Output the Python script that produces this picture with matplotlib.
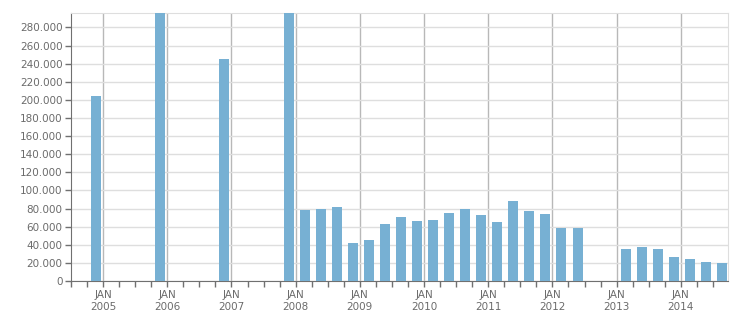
import numpy as np
import matplotlib.pyplot as plt
from matplotlib.ticker import FuncFormatter, MultipleLocator

# quarterly values, index 0 = last quarter of 2004; None = no bar
values = [
    204000, None, None, None,
    310000, None, None, None,
    245000, None, None, None,
    320000, 78400, 79500, 81700,
    42000, 45300, 63000, 70700,
    66300, 67400, 75100, 79500,
    72900, 65200, 88400, 77300,
    74000, 58500, 58500, None,
    None, 35300, 37600, 35300,
    26500, 24300, 21000, 19900,
]
years = list(range(2005, 2015))
year_labels = [f"JAN\n{y}" for y in years]

BAR_COLOR = '#77b0d3'
TEXT_COLOR = '#6b6b6b'

fig = plt.figure(figsize=(7.51, 3.13), dpi=100)
ax = fig.add_axes([71 / 751, 32 / 313, 657 / 751, 268 / 313])

x0 = 2004.891
xs = np.array([x0 + 0.25 * k for k, v in enumerate(values) if v is not None])
ys = np.array([v for v in values if v is not None])
ax.bar(xs, ys, width=0.156, color=BAR_COLOR, zorder=3)

ax.set_xlim(2004.5, 2014.735)
ax.set_ylim(0, 296000)

ax.set_yticks(np.arange(0, 280001, 20000))
ax.yaxis.set_major_formatter(FuncFormatter(lambda v, p: f"{int(v):,}".replace(',', '.')))
ax.set_xticks(years)
ax.set_xticklabels(year_labels, linespacing=1.25)
ax.xaxis.set_minor_locator(MultipleLocator(0.25))

ax.grid(axis='y', color='#dedede', linewidth=1, zorder=0)
ax.grid(axis='x', which='major', color='#b8b8b8', linewidth=1, zorder=0)
ax.set_axisbelow(True)

ax.tick_params(axis='both', which='both', colors='#707070', labelcolor=TEXT_COLOR,
               labelsize=7.5, length=4, width=1)
ax.tick_params(axis='x', which='major', pad=2.5)
ax.tick_params(axis='y', pad=2)

for side in ['left', 'bottom']:
    ax.spines[side].set_color('#707070')
for side in ['top', 'right']:
    ax.spines[side].set_color('#dedede')

plt.savefig('out.png', dpi=100)
plt.close(fig)
